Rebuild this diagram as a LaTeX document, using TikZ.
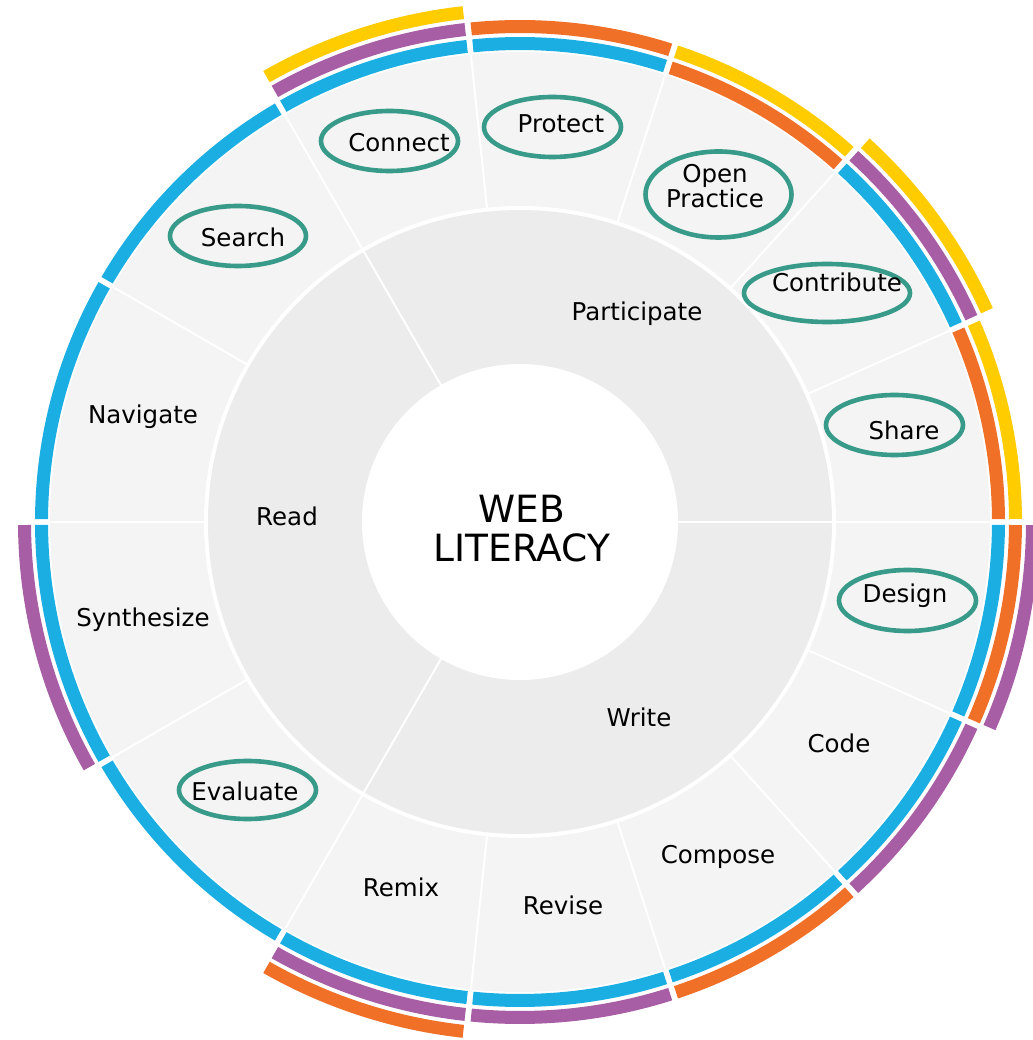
\documentclass[tikz,border=0pt]{standalone}
\usepackage{fontspec}
\setmainfont{DejaVu Sans}
\usepackage{tikz}
\usetikzlibrary{calc,shapes.geometric}

\definecolor{webBlue}{RGB}{27,174,227}
\definecolor{webPurple}{RGB}{168,94,164}
\definecolor{webOrange}{RGB}{240,112,40}
\definecolor{webYellow}{RGB}{255,204,0}
\definecolor{webTeal}{RGB}{56,154,136}
\definecolor{ringIn}{RGB}{236,236,236}
\definecolor{ringOut}{RGB}{244,244,244}

\begin{document}
\begin{tikzpicture}[x=1pt,y=1pt,
    skill/.style={inner sep=0pt, font=\fontsize{24.5}{25}\selectfont},
    hub/.style={inner sep=0pt, align=center, font=\fontsize{37.5}{39}\selectfont},
    badge/.style={draw=webTeal, line width=4.6pt, ellipse, inner sep=0pt},
    cut/.style={white, line width=2pt}]
  \useasboundingbox (-520,-518) rectangle (512,522);

  %% Rings of the wheel
  \fill[ringOut] (0,0) circle[radius=470];
  \fill[white]   (0,0) circle[radius=316];
  \fill[ringIn]  (0,0) circle[radius=312];
  \fill[white]   (0,0) circle[radius=158];

  %% Dividing lines
  \foreach \a in {0,24,48,72,96,120,150,180,210,240,264,288,312,336}
  {
    \draw[cut] (\a:314) -- (\a:471);
  }
  \foreach \a in {0,120,240}
  {
    \draw[cut] (\a:157) -- (\a:314);
  }

  %% Coloured bands: start/end/level/colour
  \foreach \a/\b/\k/\c in {120/150/1/webBlue, 150/180/1/webBlue,
    180/210/1/webBlue, 180/210/2/webPurple, 210/240/1/webBlue,
    240/264/1/webBlue, 240/264/2/webPurple, 240/264/3/webOrange,
    264/288/1/webBlue, 264/288/2/webPurple,
    288/312/1/webBlue, 288/312/2/webOrange,
    312/336/1/webBlue, 312/336/2/webPurple,
    336/360/1/webBlue, 336/360/2/webOrange, 336/360/3/webPurple,
    0/24/1/webOrange, 0/24/2/webYellow,
    24/48/1/webBlue, 24/48/2/webPurple, 24/48/3/webYellow,
    48/72/1/webOrange, 48/72/2/webYellow,
    72/96/1/webBlue, 72/96/2/webOrange,
    96/120/1/webBlue, 96/120/2/webPurple, 96/120/3/webYellow}
  {
    \pgfmathsetmacro{\rin}{455+17*\k}
    \pgfmathsetmacro{\rout}{\rin+13}
    \fill[\c] ({\a+0.35}:\rin) arc[start angle=\a+0.35, end angle=\b-0.35, radius=\rin]
      -- ({\b-0.35}:\rout) arc[start angle=\b-0.35, end angle=\a+0.35, radius=\rout] -- cycle;
  }

  %% Highlighted skills
  \foreach \name/\x/\y/\w/\h in {Search/-282/286/136/60, Connect/-130.5/381/137/60,
    Protect/32.5/395/137/60, OpenPractice/198.5/327.5/146/86,
    Contribute/307/229/166/58, Share/374.5/97/137/60,
    Design/387.5/-78.5/137/61, Evaluate/-272.5/-268/137/58}
  {
    \node[badge, minimum width=\w*1pt, minimum height=\h*1pt] (oval\name) at (\x,\y) {};
  }

  %% Centre and strands
  \node[hub] (hub) at (2,-7) {WEB\\LITERACY};
  \node[skill, anchor=base] (Participate) at (117,201) {Participate};
  \node[skill, anchor=base] (Read) at (-233,-4) {Read};
  \node[skill, anchor=base] (Write) at (119,-204) {Write};

  %% Skills
  \foreach \name/\x/\y in {Search/-277/275, Navigate/-377/98, Synthesize/-377/-105,
    Evaluate/-275/-278, Remix/-119/-374, Revise/43/-392, Compose/198/-341,
    Code/319/-230, Design/385/-81, Share/384/82, Contribute/317/230,
    Protect/41/389, Connect/-121/370}
  {
    \node[skill, anchor=base] (lbl\name) at (\x,\y) {\name};
  }
  \node[skill, align=center] (lblOpenPractice) at (195,336) {Open\\Practice};

\end{tikzpicture}
\end{document}
